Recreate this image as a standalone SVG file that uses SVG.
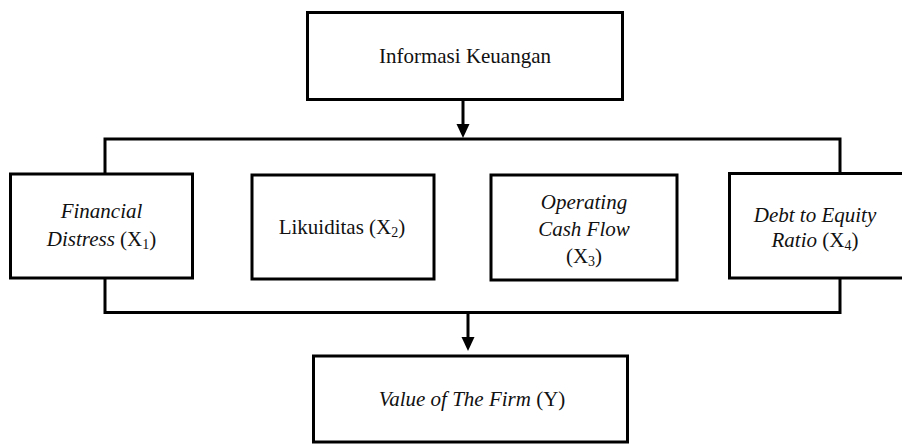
<svg xmlns="http://www.w3.org/2000/svg" width="902" height="444" viewBox="0 0 902 444" font-family="'Liberation Serif', 'Times New Roman', serif">
<defs>
<style>
.box{fill:#fff;stroke:#000;stroke-width:3}
.con{fill:none;stroke:#000;stroke-width:3}
.t{font-family:'Liberation Serif','Times New Roman',serif;font-size:21px;fill:#111;text-anchor:middle}
.it{font-style:italic}
.sub{font-size:14px}
</style>
</defs>
<rect width="902" height="444" fill="#fff"/>
<g id="connectors">
<path class="con" d="M105,174 V139 H840 V173"/>
<path class="con" d="M105,278 V312.5 H840 V278"/>
<line class="con" x1="463" y1="100" x2="463" y2="125"/>
<path d="M456.5,124 L469.5,124 L463,138 Z" fill="#000"/>
<line class="con" x1="468" y1="312" x2="468" y2="338"/>
<path d="M461.5,337 L474.5,337 L468,351 Z" fill="#000"/>
</g>
<g id="informasi">
<rect class="box" x="307.5" y="12.5" width="315" height="87"/>
<text class="t" x="465" y="63">Informasi Keuangan</text>
</g>
<g id="x1">
<rect class="box" x="10.5" y="174" width="182" height="104"/>
<text class="t it" x="101.5" y="218">Financial</text>
<text class="t" x="101.5" y="246"><tspan class="it">Distress</tspan> (X<tspan class="sub" dy="3">1</tspan><tspan dy="-3">)</tspan></text>
</g>
<g id="x2">
<rect class="box" x="252" y="175" width="182" height="104"/>
<text class="t" x="342" y="234">Likuiditas (X<tspan class="sub" dy="3">2</tspan><tspan dy="-3">)</tspan></text>
</g>
<g id="x3">
<rect class="box" x="491" y="175" width="186" height="105"/>
<text class="t it" x="584" y="209">Operating</text>
<text class="t it" x="584" y="236">Cash Flow</text>
<text class="t" x="584" y="263">(X<tspan class="sub" dy="3">3</tspan><tspan dy="-3">)</tspan></text>
</g>
<g id="x4">
<rect class="box" x="729.5" y="173.5" width="180" height="104.5"/>
<text class="t it" x="815" y="222">Debt to Equity</text>
<text class="t" x="815" y="247"><tspan class="it">Ratio</tspan> (X<tspan class="sub" dy="3">4</tspan><tspan dy="-3">)</tspan></text>
</g>
<g id="y">
<rect class="box" x="313.5" y="356" width="314" height="86"/>
<text class="t" x="472" y="406"><tspan class="it">Value of The Firm</tspan> (Y)</text>
</g>
</svg>
